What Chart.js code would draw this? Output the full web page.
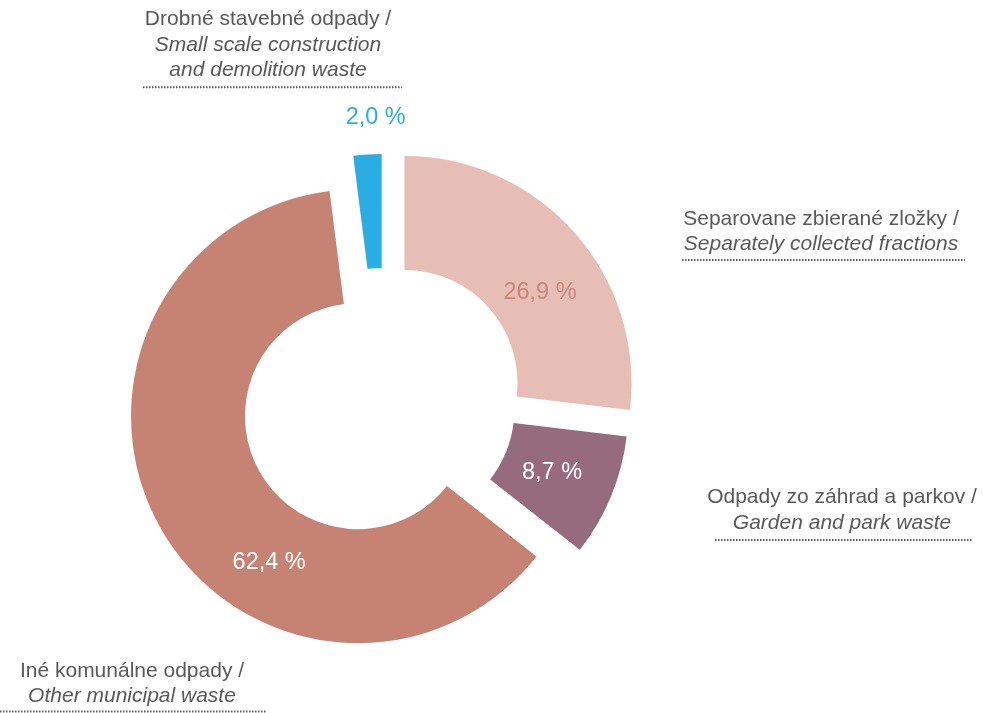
<!DOCTYPE html>
<html>
<head>
<meta charset="utf-8">
<script src="https://cdn.jsdelivr.net/npm/chart.js@4"></script>
<style>
  html, body { margin: 0; padding: 0; background: #fff; }
  #chart-container { position: relative; width: 983px; height: 713px; }
</style>
</head>
<body>
<div id="chart-container"><canvas id="myChart"></canvas></div>
<script>
// data
const categoriesSk = ['Separovane zbierané zložky /', 'Odpady zo záhrad a parkov /', 'Iné komunálne odpady /', 'Drobné stavebné odpady /'];
const categoriesEn = [['Separately collected fractions'], ['Garden and park waste'], ['Other municipal waste'], ['Small scale construction', 'and demolition waste']];
const shares = [26.9, 8.7, 62.4, 2.0];

// styles
const sliceColors = ['#E6BEB6', '#966B7E', '#C68374', '#2AADE2'];
const valueColors = ['#C8877C', '#FFFFFF', '#FFFFFF', '#2AADE2'];
const explode = [28.7, 19.8, 28.7, 21];      // how far each slice is pulled out (px)
const valueAngle = [0.58, 0.5, 0.37, 0.82];  // label position along the slice angle
const valueRing = [0.44, 0.44, 0.51, 1.32];  // label position across the ring width
// category label blocks: centre x, first line y, underline y and its ends
const labelBoxes = [
    {x: 821, y: 219.5, line: 260, from: 682, to: 965},
    {x: 842, y: 497.7, line: 540, from: 715, to: 973},
    {x: 132, y: 671.3, line: 711.5, from: 0, to: 267},
    {x: 268, y: 19.7, line: 87.3, from: 143, to: 402}
];
const FONT = '"Liberation Sans", Arial, sans-serif';
const TEXT_COLOR = '#595959';

// pull slices out without the radius change that the built-in offset adds
const arcDraw = Chart.ArcElement.prototype.draw;
Chart.ArcElement.prototype.draw = function (ctx, area) {
    const i = this.$context ? this.$context.dataIndex : 0;
    const d = explode[i] || 0;
    const mid = (this.startAngle + this.endAngle) / 2;
    ctx.save();
    ctx.translate(Math.cos(mid) * d, Math.sin(mid) * d);
    arcDraw.call(this, ctx, area);
    ctx.restore();
};

const labelPlugin = {
    id: 'sliceLabels',
    afterDraw(chart) {
        const ctx = chart.ctx;
        const arcs = chart.getDatasetMeta(0).data;
        ctx.save();
        ctx.textAlign = 'center';
        ctx.textBaseline = 'middle';

        // values
        ctx.font = '23.5px ' + FONT;
        arcs.forEach((arc, i) => {
            const p = arc.getProps(['x', 'y', 'startAngle', 'endAngle', 'innerRadius', 'outerRadius'], true);
            const mid = (p.startAngle + p.endAngle) / 2;
            const a = p.startAngle + valueAngle[i] * (p.endAngle - p.startAngle);
            const r = p.innerRadius + valueRing[i] * (p.outerRadius - p.innerRadius);
            const px = p.x + Math.cos(mid) * explode[i] + Math.cos(a) * r;
            const py = p.y + Math.sin(mid) * explode[i] + Math.sin(a) * r;
            ctx.fillStyle = valueColors[i];
            ctx.fillText(shares[i].toFixed(1).replace('.', ',') + ' %', px, py);
        });

        // categories
        ctx.fillStyle = TEXT_COLOR;
        labelBoxes.forEach((b, i) => {
            ctx.font = '21px ' + FONT;
            ctx.fillText(categoriesSk[i], b.x, b.y);
            ctx.font = 'italic 21px ' + FONT;
            categoriesEn[i].forEach((t, k) => ctx.fillText(t, b.x, b.y + 25 * (k + 1)));

            ctx.strokeStyle = TEXT_COLOR;
            ctx.lineWidth = 2;
            ctx.setLineDash([1.5, 1.5]);
            ctx.beginPath();
            ctx.moveTo(b.from, b.line);
            ctx.lineTo(b.to, b.line);
            ctx.stroke();
        });
        ctx.restore();
    }
};

const ctx = document.getElementById('myChart').getContext('2d');
new Chart(ctx, {
    type: 'doughnut',
    data: {
        labels: categoriesSk,
        datasets: [{
            data: shares,
            backgroundColor: sliceColors,
            borderWidth: 0,
            hoverOffset: 0
        }]
    },
    options: {
        responsive: true,
        maintainAspectRatio: false,
        animation: false,
        events: [],
        radius: 227,
        cutout: '49.8%',
        layout: {padding: {left: 0, right: 217, top: 91, bottom: 0}},
        plugins: {
            legend: {display: false},
            tooltip: {enabled: false}
        }
    },
    plugins: [labelPlugin]
});
</script>
</body>
</html>
